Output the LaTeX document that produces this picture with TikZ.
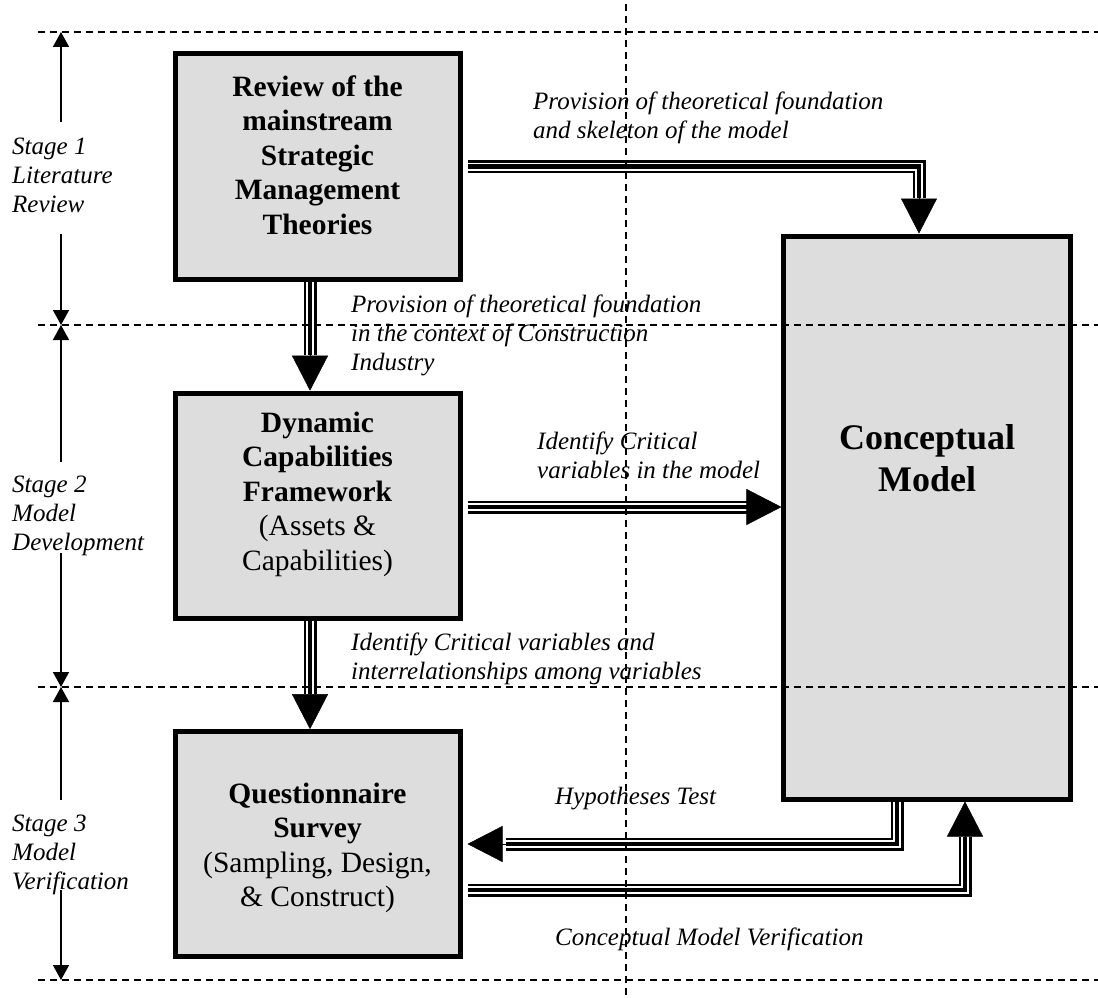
\documentclass[tikz,border=0pt]{standalone}
\usepackage{fontspec}
\setmainfont{Liberation Serif}
\usetikzlibrary{arrows.meta,calc}
\definecolor{boxgray}{RGB}{221,221,221}
\begin{document}
\begin{tikzpicture}[x=1pt,y=-1pt,
  box/.style={draw=black, line width=5pt, fill=boxgray, inner sep=0pt,
    minimum width=285pt, minimum height=225pt},
  boxtext/.style={font=\fontsize{29.5}{34.5}\selectfont, align=center,
    anchor=base, inner sep=0pt},
  bigtext/.style={font=\fontsize{36}{41.4}\selectfont\bfseries, align=center,
    anchor=base, inner sep=0pt},
  lab/.style={font=\fontsize{25}{29}\selectfont\itshape, align=left,
    anchor=base west, inner sep=0pt},
  tri/.style={draw=black, line width=13pt, line join=miter,
    postaction={draw=white, line width=8pt},
    postaction={draw=black, line width=4.5pt}},
  head/.style={line width=0.5pt, -{Triangle[width=36pt,length=35pt]}},
  axis/.style={line width=1.5pt, -{Triangle[width=16pt,length=15pt]}},
  guide/.style={line width=1.5pt, dash pattern=on 7pt off 5pt}]

\useasboundingbox (0,0) rectangle (1098,998);

% boxes
\node[box] (b1) at (317.5,166.5) {};
\node[box] (b2) at (317.5,505.7) {};
\node[box] (b3) at (317.5,844.2) {};
\node[box, minimum width=286.5pt, minimum height=563pt] (cm) at (927.2,517.5) {};

% box texts (each placed by the baseline of its last line)
\node[boxtext, font=\fontsize{29.5}{34.5}\selectfont\bfseries] (t1) at (317.5,234)
  {Review of the\\mainstream\\Strategic\\Management\\Theories};
\node[boxtext] (t2) at (317.5,570)
  {\textbf{Dynamic}\\\textbf{Capabilities}\\\textbf{Framework}\\(Assets \&\\Capabilities)};
\node[boxtext] (t3) at (317.5,906.5)
  {\textbf{Questionnaire}\\\textbf{Survey}\\(Sampling, Design,\\\& Construct)};
\node[bigtext] (t4) at (927.2,491) {Conceptual\\Model};

% stage labels
\node[lab] (s1) at (12,212) {Stage 1\\Literature\\Review};
\node[lab] (s2) at (12,550) {Stage 2\\Model\\Development};
\node[lab] (s3) at (12,889) {Stage 3\\Model\\Verification};

% connector labels
\node[lab] (l1) at (533,138) {Provision of theoretical foundation\\and skeleton of the model};
\node[lab] (l2) at (351,370) {Provision of theoretical foundation\\in the context of Construction\\Industry};
\node[lab] (l3) at (537,478) {Identify Critical\\variables in the model};
\node[lab] (l4) at (351,679) {Identify Critical variables and\\interrelationships among variables};
\node[lab] (l5) at (555,804) {Hypotheses Test};
\node[lab] (l6) at (555,945) {Conceptual Model Verification};

% connector bends and arrowhead bases
\coordinate (a1b) at (919,198);
\coordinate (a2b) at (310,355);
\coordinate (a3b) at (747,507);
\coordinate (a4b) at (310,694);
\coordinate (a5c) at (897,844);
\coordinate (a5b) at (506,844);
\coordinate (a6c) at (965,890);
\coordinate (a6b) at (965,837);

% triple-line connectors
\draw[tri] ($(b1.east)+(5,0)$) -| (a1b);
\draw[head] (a1b) -- (a1b |- cm.north);
\draw[tri] (a2b |- b1.south) -- (a2b);
\draw[head] (a2b) -- (a2b |- b2.north);
\draw[tri] ($(b2.east |- a3b)+(5,0)$) -- (a3b);
\draw[head] (a3b) -- (a3b -| cm.west);
\draw[tri] (a4b |- b2.south) -- (a4b);
\draw[head] (a4b) -- (a4b |- b3.north);
\draw[tri] (a5c |- cm.south) -- (a5c) -- (a5b);
\draw[head] (a5b) -- ($(a5b -| b3.east)+(5,0)$);
\draw[tri] ($(b3.east |- a6c)+(5,0)$) -- (a6c) -- (a6b);
\draw[head] (a6b) -- (a6b |- cm.south);

% stage extent arrows
\coordinate (g0) at (61,32);
\coordinate (g1) at (61,325);
\coordinate (g2) at (61,687);
\coordinate (g3) at (61,980);
\draw[axis] (61,122) -- (g0);
\draw[axis] (61,234) -- (g1);
\draw[axis] (61,462) -- (g1);
\draw[axis] (61,553) -- (g2);
\draw[axis] (61,800) -- (g2);
\draw[axis] (61,890) -- (g3);

% dashed guide lines
\draw[guide] (38,32) -- (1098,32);
\draw[guide] (38,325) -- (1098,325);
\draw[guide] (38,687) -- (1098,687);
\draw[guide] (38,980) -- (1098,980);
\draw[guide] (626,4) -- (626,998);
\end{tikzpicture}
\end{document}
